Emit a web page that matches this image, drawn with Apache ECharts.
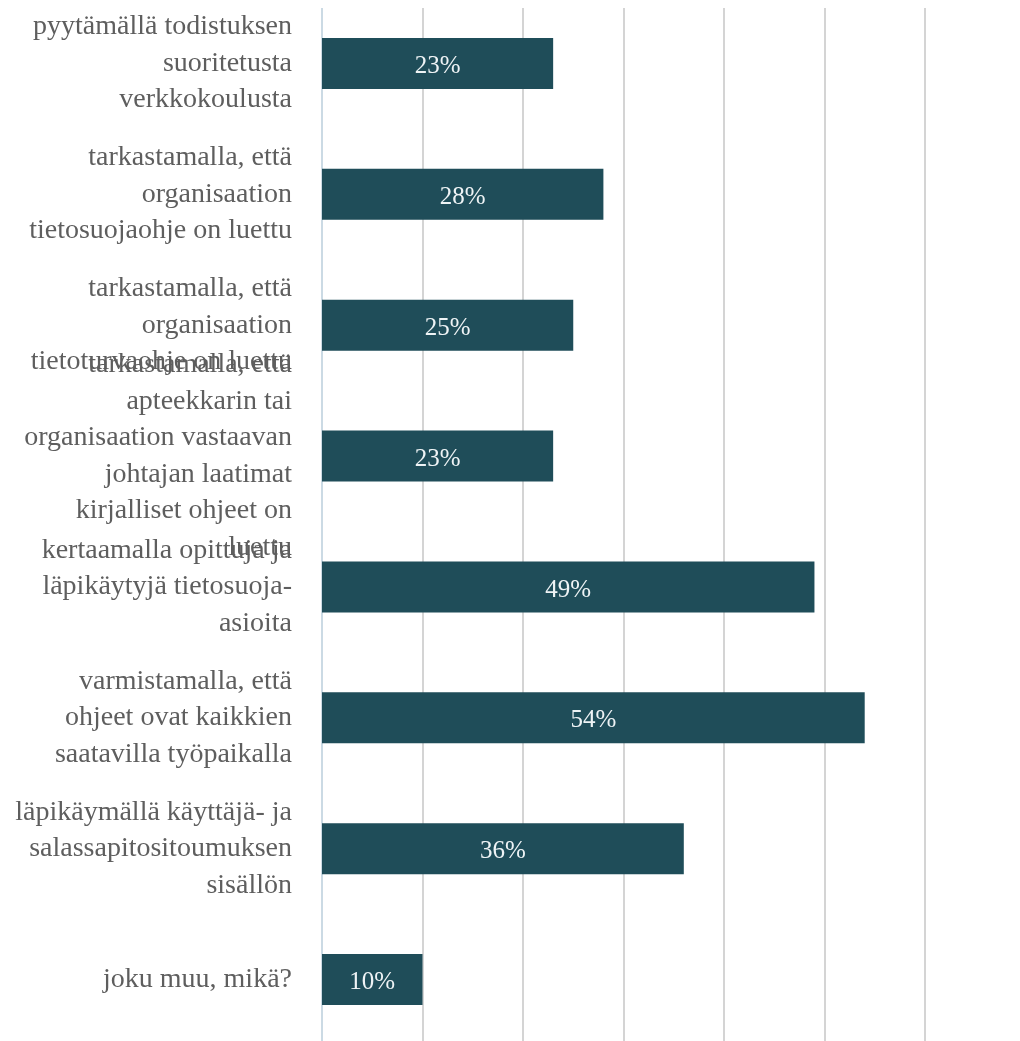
<!DOCTYPE html>
<html>
<head>
<meta charset="utf-8">
<script src="https://cdn.jsdelivr.net/npm/echarts@6/dist/echarts.min.js"></script>
<style>
html,body{margin:0;padding:0;background:#fff;overflow:hidden;width:1020px;height:1041px;}
#chart{width:1020px;height:1061px;margin-top:-10px;}
</style>
</head>
<body>
<div id="chart"></div>
<script>
const categories = [
  "pyytämällä todistuksen\nsuoritetusta\nverkkokoulusta",
  "tarkastamalla, että\norganisaation\ntietosuojaohje on luettu",
  "tarkastamalla, että\norganisaation\ntietoturvaohje on luettu",
  "tarkastamalla, että\napteekkarin tai\norganisaation vastaavan\njohtajan laatimat\nkirjalliset ohjeet on\nluettu",
  "kertaamalla opittuja ja\nläpikäytyjä tietosuoja-\nasioita",
  "varmistamalla, että\nohjeet ovat kaikkien\nsaatavilla työpaikalla",
  "läpikäymällä käyttäjä- ja\nsalassapitositoumuksen\nsisällön",
  "joku muu, mikä?"
];
const values = [23, 28, 25, 23, 49, 54, 36, 10];
const axisMin = 0, axisMax = 60, axisInterval = 10;

const chart = echarts.init(document.getElementById('chart'));
chart.setOption({
  animation: false,
  backgroundColor: '#ffffff',
  grid: { left: 322, right: 95, top: 8, height: 1047, containLabel: false },
  xAxis: {
    type: 'value', min: axisMin, max: axisMax, interval: axisInterval,
    axisLabel: { show: false }, axisTick: { show: false }, axisLine: { show: false },
    splitLine: { show: true, lineStyle: { color: '#d4d4d4', width: 2 } }
  },
  yAxis: {
    type: 'category', data: categories, inverse: true,
    axisTick: { show: false },
    axisLine: { show: true, lineStyle: { color: '#c9dcea', width: 1.5 } },
    axisLabel: {
      margin: 30, align: 'right', color: '#5e5e5e',
      fontFamily: '"Liberation Serif", "Times New Roman", serif',
      fontSize: 28, lineHeight: 36.5, interval: 0,
      padding: [10, 0, 0, 0]
    }
  },
  series: [{
    type: 'bar', data: values, barWidth: 51,
    itemStyle: { color: '#1f4d59' },
    label: {
      show: true, position: 'inside', formatter: '{c}%', color: '#eef3f5',
      fontFamily: '"Liberation Serif", "Times New Roman", serif', fontSize: 25,
      offset: [0, 3]
    }
  }],
  graphic: [{
    type: 'rect', silent: true, z: 100,
    shape: { x: 315, y: 0, width: 705, height: 18 },
    style: { fill: '#ffffff' }
  }]
});
</script>
</body>
</html>
